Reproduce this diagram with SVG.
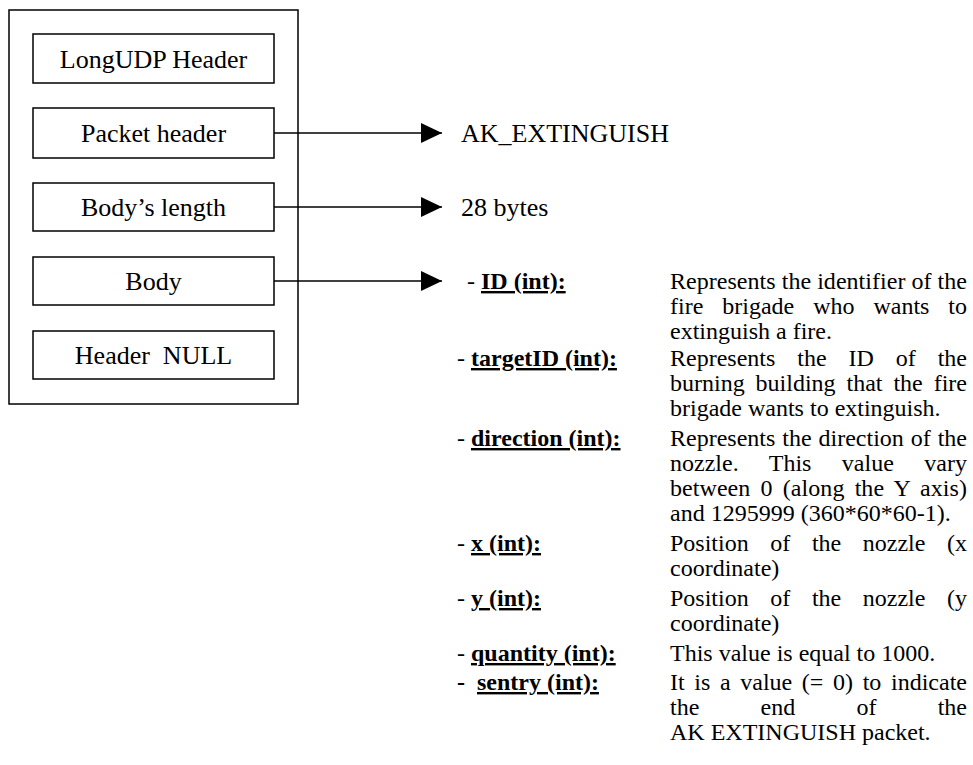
<svg xmlns="http://www.w3.org/2000/svg" width="973" height="765" viewBox="0 0 973 765">
<style>
text{font-family:"Liberation Serif","Times New Roman",serif;fill:#000}
.bt{font-size:26px;text-anchor:middle}
.tl{font-size:26px}
.r{font-size:24px}
.lab{font-weight:bold;text-decoration:underline}
.box{fill:#fff;stroke:#000;stroke-width:1.5}
.ln{stroke:#000;stroke-width:1.5;fill:none}
</style>
<defs>
<marker id="ah" markerWidth="22" markerHeight="20" refX="21" refY="10" orient="auto" markerUnits="userSpaceOnUse">
<path d="M0,0 L21,10 L0,20 Z" fill="#000"/>
</marker>
</defs>
<rect width="973" height="765" fill="#fff"/>
<g id="packet">
<rect class="box" x="9" y="10" width="289" height="394"/>
</g>
<g id="longudp"><rect class="box" x="33" y="34" width="241" height="49"/><text class="bt" x="153.5" y="68">LongUDP Header</text></g>
<g id="pheader"><rect class="box" x="33" y="108" width="241" height="50"/><text class="bt" x="153.5" y="142">Packet header</text></g>
<g id="blength"><rect class="box" x="33" y="183" width="241" height="48"/><text class="bt" x="153.5" y="216">Body’s length</text></g>
<g id="body"><rect class="box" x="33" y="257" width="241" height="48"/><text class="bt" x="153.5" y="290">Body</text></g>
<g id="hnull"><rect class="box" x="33" y="331" width="241" height="48"/><text class="bt" x="153.5" y="364" xml:space="preserve">Header  NULL</text></g>
<g id="connectors">
<line class="ln" x1="274" y1="133" x2="442" y2="133" marker-end="url(#ah)"/>
<line class="ln" x1="274" y1="207" x2="442" y2="207" marker-end="url(#ah)"/>
<line class="ln" x1="274" y1="281" x2="442" y2="281" marker-end="url(#ah)"/>
</g>
<g id="type"><text class="tl" x="461" y="142">AK_EXTINGUISH</text></g>
<g id="len"><text class="tl" x="461" y="216">28 bytes</text></g>
<g id="fields" class="r">
<text class="r" x="467" y="289">- <tspan class="lab">ID (int):</tspan></text>
<text class="r" x="670" y="289" textLength="297" lengthAdjust="spacing">Represents the identifier of the</text>
<text class="r" x="670" y="314" word-spacing="12.9" textLength="297" lengthAdjust="spacing">fire brigade who wants to</text>
<text class="r" x="670" y="339">extinguish a fire.</text>

<text class="r" x="457" y="366">- <tspan class="lab">targetID (int):</tspan></text>
<text class="r" x="670" y="366" word-spacing="15.9" textLength="297" lengthAdjust="spacing">Represents the ID of the</text>
<text class="r" x="670" y="391" word-spacing="4.9" textLength="297" lengthAdjust="spacing">burning building that the fire</text>
<text class="r" x="670" y="416">brigade wants to extinguish.</text>

<text class="r" x="457" y="446">- <tspan class="lab">direction (int):</tspan></text>
<text class="r" x="670" y="446" word-spacing="0.9" textLength="297" lengthAdjust="spacing">Represents the direction of the</text>
<text class="r" x="670" y="471" word-spacing="24.4" textLength="297" lengthAdjust="spacing">nozzle. This value vary</text>
<text class="r" x="670" y="496" word-spacing="4.1" textLength="297" lengthAdjust="spacing">between 0 (along the Y axis)</text>
<text class="r" x="670" y="521">and 1295999 (360*60*60-1).</text>

<text class="r" x="457" y="551">- <tspan class="lab">x (int):</tspan></text>
<text class="r" x="670" y="551" word-spacing="15.6" textLength="297" lengthAdjust="spacing">Position of the nozzle (x</text>
<text class="r" x="670" y="576">coordinate)</text>

<text class="r" x="457" y="606">- <tspan class="lab">y (int):</tspan></text>
<text class="r" x="670" y="606" word-spacing="15.6" textLength="297" lengthAdjust="spacing">Position of the nozzle (y</text>
<text class="r" x="670" y="631">coordinate)</text>

<text class="r" x="457" y="661">- <tspan class="lab">quantity (int):</tspan></text>
<text class="r" x="670" y="661">This value is equal to 1000.</text>

<text class="r" x="457" y="690" xml:space="preserve"><tspan font-weight="bold">-</tspan>  <tspan class="lab">sentry (int):</tspan></text>
<text class="r" x="670" y="690" word-spacing="3.6" textLength="297" lengthAdjust="spacing">It is a value (= 0) to indicate</text>
<text class="r" x="670" y="715" word-spacing="55.2" textLength="297" lengthAdjust="spacing">the end of the</text>
<text class="r" x="670" y="740">AK EXTINGUISH packet.</text>
</g>
</svg>
